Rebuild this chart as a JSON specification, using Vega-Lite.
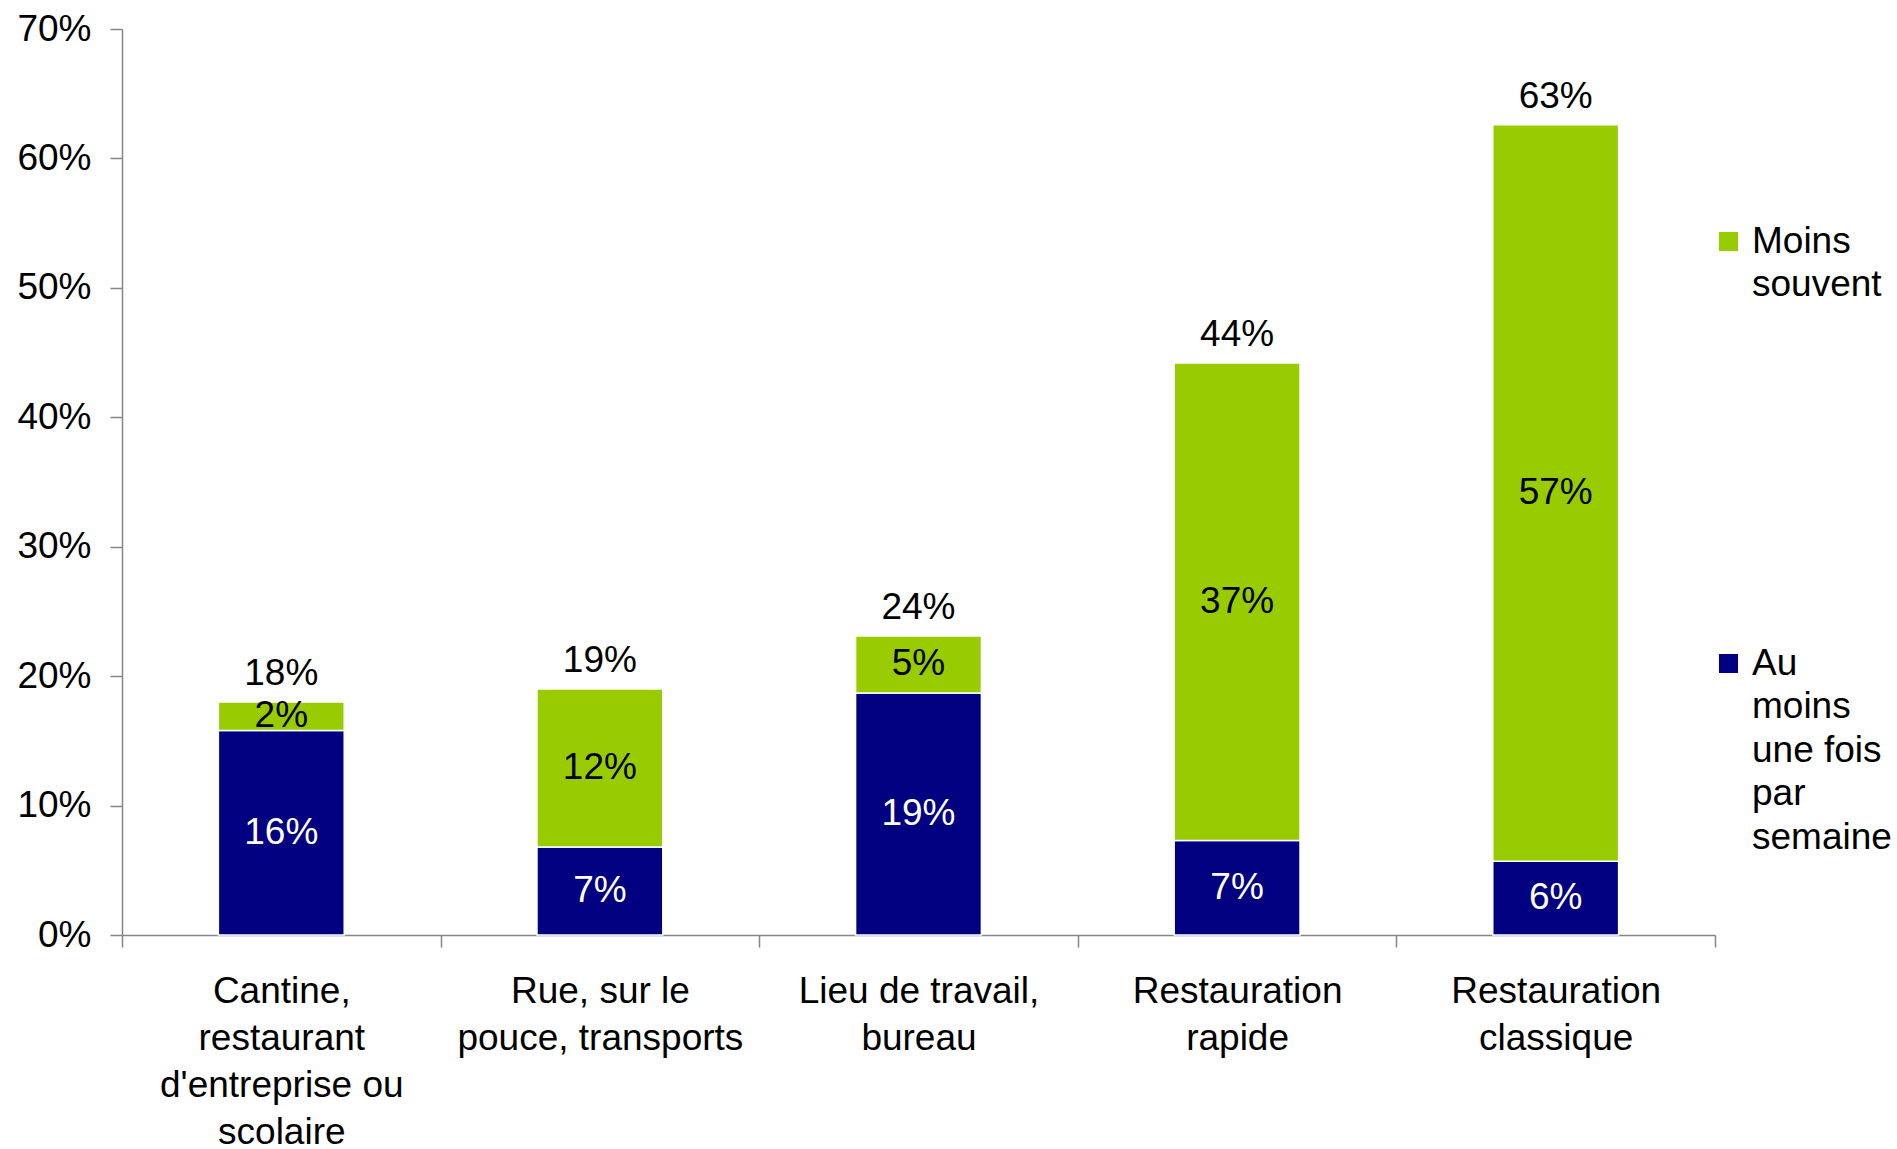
{
  "$schema": "https://vega.github.io/schema/vega-lite/v6.json",
  "width": 1593,
  "height": 906,
  "autosize": "none",
  "padding": {"left": 122, "top": 29, "right": 182, "bottom": 214},
  "background": "white",
  "config": {"view": {"stroke": null}, "font": "Liberation Sans", "style": {"guide-label": {"lineHeight": 43.6}}},
  "datasets": {
    "segments": [
      {"lieu": "Cantine, restaurant d'entreprise ou scolaire", "frequence": "Au moins une fois par semaine", "part": 0.158, "etiquette": "16%"},
      {"lieu": "Cantine, restaurant d'entreprise ou scolaire", "frequence": "Moins souvent", "part": 0.022, "etiquette": "2%"},
      {"lieu": "Rue, sur le pouce, transports", "frequence": "Au moins une fois par semaine", "part": 0.068, "etiquette": "7%"},
      {"lieu": "Rue, sur le pouce, transports", "frequence": "Moins souvent", "part": 0.122, "etiquette": "12%"},
      {"lieu": "Lieu de travail, bureau", "frequence": "Au moins une fois par semaine", "part": 0.187, "etiquette": "19%"},
      {"lieu": "Lieu de travail, bureau", "frequence": "Moins souvent", "part": 0.044, "etiquette": "5%"},
      {"lieu": "Restauration rapide", "frequence": "Au moins une fois par semaine", "part": 0.073, "etiquette": "7%"},
      {"lieu": "Restauration rapide", "frequence": "Moins souvent", "part": 0.369, "etiquette": "37%"},
      {"lieu": "Restauration classique", "frequence": "Au moins une fois par semaine", "part": 0.057, "etiquette": "6%"},
      {"lieu": "Restauration classique", "frequence": "Moins souvent", "part": 0.569, "etiquette": "57%"}
    ],
    "totaux": [
      {"lieu": "Cantine, restaurant d'entreprise ou scolaire", "total": 0.180, "etiquette": "18%"},
      {"lieu": "Rue, sur le pouce, transports", "total": 0.190, "etiquette": "19%"},
      {"lieu": "Lieu de travail, bureau", "total": 0.231, "etiquette": "24%"},
      {"lieu": "Restauration rapide", "total": 0.442, "etiquette": "44%"},
      {"lieu": "Restauration classique", "total": 0.626, "etiquette": "63%"}
    ]
  },
  "layer": [
    {
      "data": {"name": "segments"},
      "mark": {"type": "bar", "width": {"band": 0.395}, "stroke": "white", "strokeWidth": 1.5},
      "encoding": {
        "x": {
          "field": "lieu", "type": "nominal", "sort": null, "title": null,
          "scale": {"paddingInner": 0, "paddingOuter": 0},
          "axis": {
            "tickBand": "extent", "tickSize": 12, "tickColor": "#868686", "tickWidth": 1.5,
            "domainColor": "#868686", "domainWidth": 1.5,
            "labelAngle": 0, "labelFontSize": 37, "labelColor": "black", "labelBaseline": "top",
            "labelLineHeight": 47.3, "labelPadding": 26, "labelLimit": 400,
            "labelExpr": "datum.label == '' ? '' : datum.value == 'Rue, sur le pouce, transports' ? ['Rue, sur le', 'pouce, transports'] : datum.value == 'Lieu de travail, bureau' ? ['Lieu de travail,', 'bureau'] : datum.value == 'Restauration rapide' ? ['Restauration', 'rapide'] : datum.value == 'Restauration classique' ? ['Restauration', 'classique'] : datum.value == \"Cantine, restaurant d'entreprise ou scolaire\" ? ['Cantine,', 'restaurant', \"d'entreprise ou\", 'scolaire'] : ''"
          }
        },
        "y": {
          "field": "part", "type": "quantitative", "stack": "zero", "title": null,
          "scale": {"domain": [0, 0.7]},
          "axis": {
            "format": ".0%", "values": [0, 0.1, 0.2, 0.3, 0.4, 0.5, 0.6, 0.7], "grid": false,
            "tickSize": 12, "tickColor": "#868686", "tickWidth": 1.5,
            "domainColor": "#868686", "domainWidth": 1.5,
            "labelPadding": 19, "labelFontSize": 37, "labelColor": "black"
          }
        },
        "color": {
          "field": "frequence", "type": "nominal",
          "scale": {"domain": ["Moins souvent", "Au moins une fois par semaine"], "range": ["#99CC00", "#000080"]},
          "legend": {
            "title": null, "orient": "none", "legendX": 1588, "legendY": 194, "padding": 0,
            "symbolType": "square", "symbolSize": 361, "symbolStrokeWidth": 0, "symbolOpacity": 1,
            "labelFontSize": 37, "labelColor": "black", "labelOffset": 5, "labelLimit": 300,
            "labelBaseline": "middle", "rowPadding": 340,
            "labelExpr": "datum.label == 'Moins souvent' ? ['Moins', 'souvent'] : ['Au', 'moins', 'une fois', 'par', 'semaine']"
          }
        },
        "order": {"field": "frequence", "sort": "ascending"}
      }
    },
    {
      "data": {"name": "segments"},
      "transform": [
        {"stack": "part", "groupby": ["lieu"], "sort": [{"field": "frequence", "order": "ascending"}], "as": ["bas", "haut"]},
        {"fold": ["bas", "haut"], "as": ["borne", "pos"]}
      ],
      "mark": {"type": "text", "fontSize": 37, "baseline": "middle", "align": "center"},
      "encoding": {
        "x": {"field": "lieu", "type": "nominal", "sort": null},
        "y": {"aggregate": "mean", "field": "pos", "type": "quantitative", "stack": null},
        "detail": {"field": "frequence", "type": "nominal"},
        "text": {"field": "etiquette", "type": "nominal"},
        "color": {"condition": {"test": "datum.frequence == 'Moins souvent'", "value": "black"}, "value": "white"}
      }
    },
    {
      "data": {"name": "totaux"},
      "mark": {"type": "text", "fontSize": 37, "baseline": "middle", "align": "center", "dy": -28, "color": "black"},
      "encoding": {
        "x": {"field": "lieu", "type": "nominal", "sort": null},
        "y": {"field": "total", "type": "quantitative"},
        "text": {"field": "etiquette", "type": "nominal"}
      }
    }
  ]
}
